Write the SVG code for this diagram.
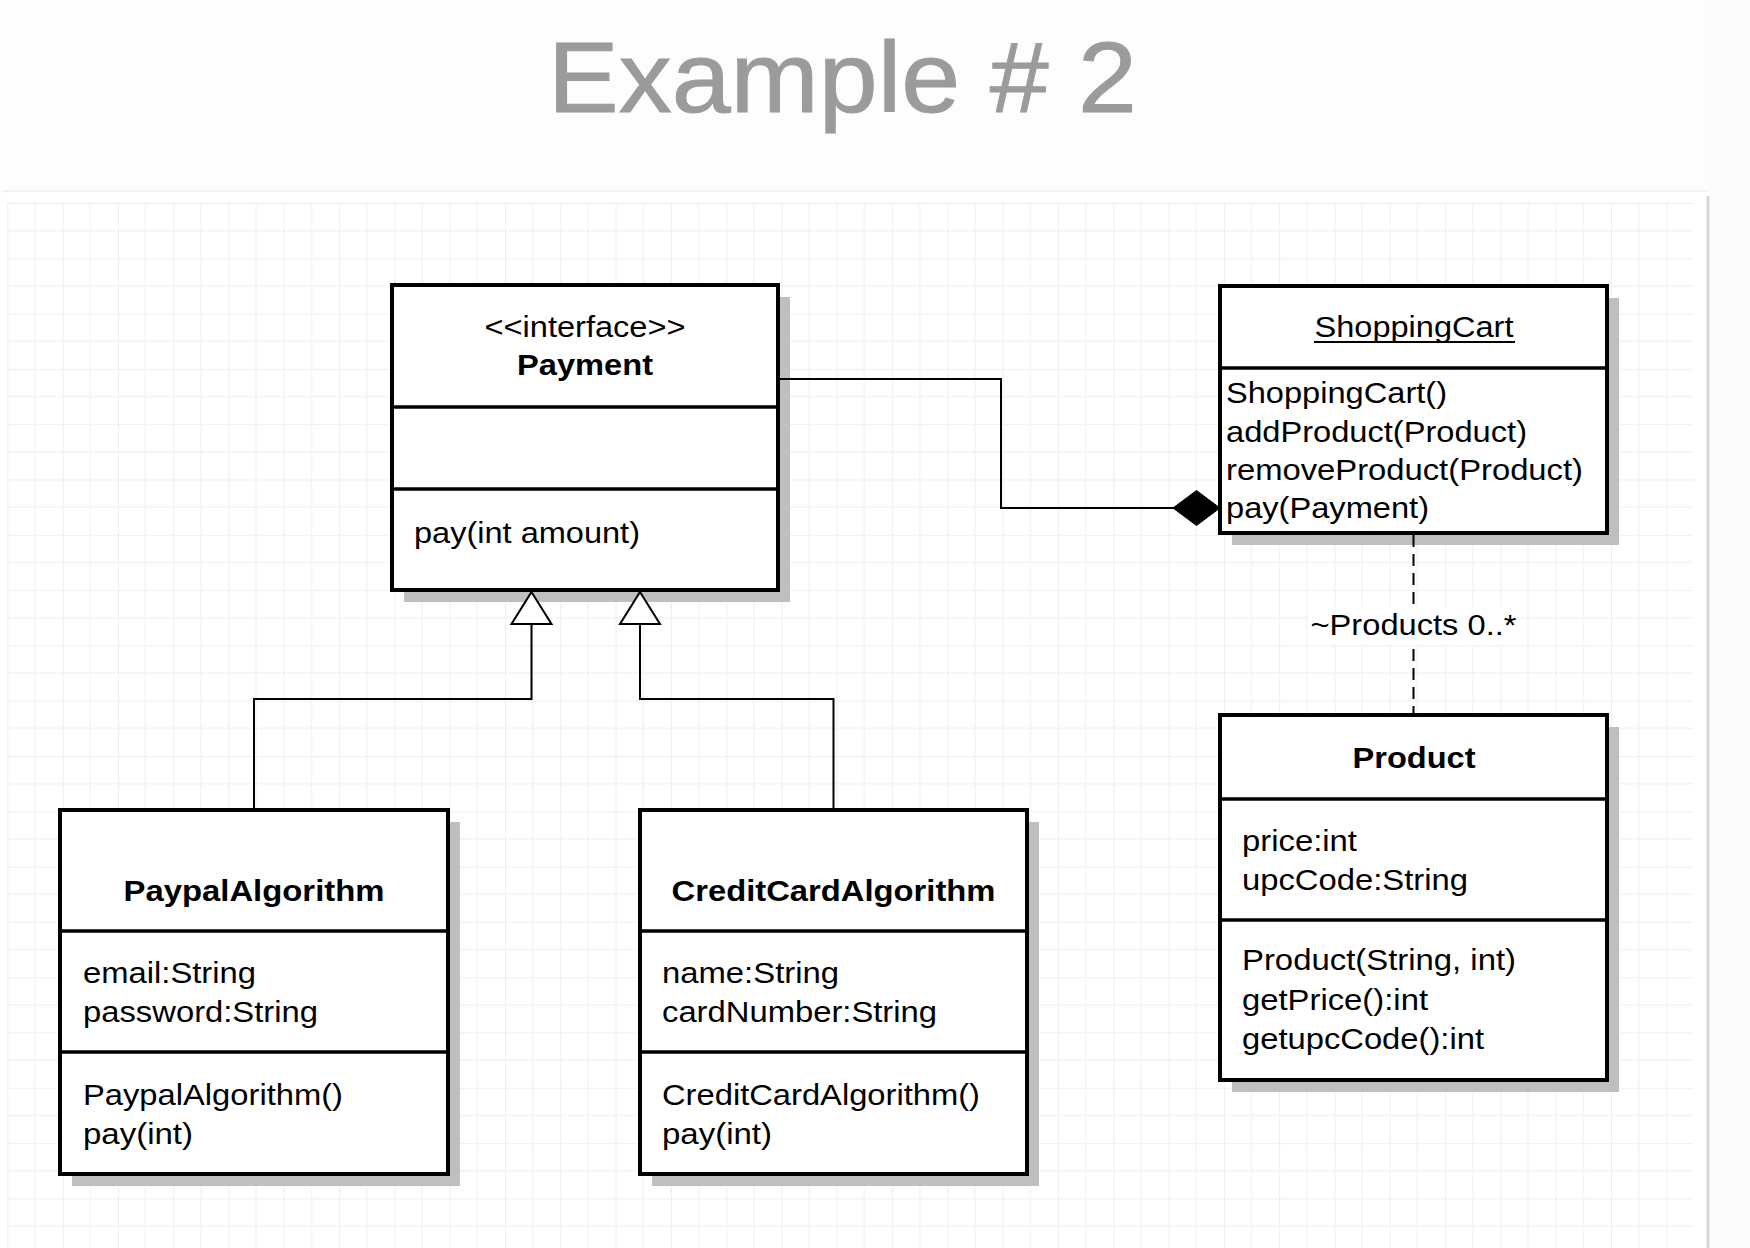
<svg xmlns="http://www.w3.org/2000/svg" width="1750" height="1248" viewBox="0 0 1750 1248">
<defs>
<style>
.box{fill:#fff;stroke:#000;stroke-width:4}
.div{stroke:#000;stroke-width:3.5;fill:none}
.shadow{fill:#bfbfbf}
.t{font-family:"Liberation Sans",Arial,Helvetica,sans-serif;font-size:29px;fill:#000}
.b{font-weight:bold}
.c{text-anchor:middle}
.edge{fill:none;stroke:#000;stroke-width:2}
.dash{fill:none;stroke:#000;stroke-width:2;stroke-dasharray:12 7}
</style>
<pattern id="grid" patternUnits="userSpaceOnUse" x="7.3" y="37.1" width="55.3" height="55.3">
<path d="M0 0V55.3M0 0H55.3" stroke="#e9e9f3" stroke-width="1.6" fill="none"/>
<path d="M27.65 0V55.3M0 27.65H55.3" stroke="#f2f2f8" stroke-width="1.3" fill="none"/>
</pattern>
</defs>

<g id="background">
<rect x="0" y="0" width="1750" height="1248" fill="#fdfdfd"/>
<rect x="2" y="191" width="1706" height="1057" fill="#ffffff"/>
<rect x="7" y="203" width="1686" height="1045" fill="url(#grid)"/>
<line x1="2" y1="191" x2="1708" y2="191" stroke="#f3f3f3" stroke-width="2"/>
<line x1="1708" y1="196" x2="1708" y2="1248" stroke="#d6d6d6" stroke-width="3"/>
<rect x="1710" y="0" width="40" height="1248" fill="#fbfbfb"/>
</g>

<g id="title">
<text x="548" y="112" font-family="'Liberation Sans',Arial,Helvetica,sans-serif" font-size="101" fill="#9b9b9b" stroke="#9b9b9b" stroke-width="1" textLength="589" lengthAdjust="spacingAndGlyphs">Example # 2</text>
</g>

<g id="shadows">
<rect class="shadow" x="404" y="297" width="386" height="305"/>
<rect class="shadow" x="1232" y="298" width="387" height="247"/>
<rect class="shadow" x="1232" y="727" width="387" height="365"/>
<rect class="shadow" x="72" y="822" width="388" height="364"/>
<rect class="shadow" x="652" y="822" width="387" height="364"/>
</g>

<g id="connectors">
<polyline class="edge" points="778,379 1001,379 1001,508 1175,508"/>
<polygon points="1173,508 1196.5,490.5 1220,508 1196.5,525.5" fill="#000" stroke="#000" stroke-width="1"/>
<line class="dash" x1="1413.5" y1="535" x2="1413.5" y2="715"/>
<rect x="1308" y="607" width="212" height="38" fill="#fff"/>
<text class="t c" x="1413.5" y="635" textLength="206" lengthAdjust="spacingAndGlyphs">~Products 0..*</text>
<polyline class="edge" points="531.5,624 531.5,699 254,699 254,810"/>
<polyline class="edge" points="640,624 640,699 833.5,699 833.5,810"/>
<polygon points="531.5,592 551.5,624 511.5,624" fill="#fff" stroke="#000" stroke-width="2"/>
<polygon points="640,592 660,624 620,624" fill="#fff" stroke="#000" stroke-width="2"/>
</g>

<g id="Payment">
<rect class="box" x="392" y="285" width="386" height="305"/>
<line class="div" x1="392" y1="407" x2="778" y2="407"/>
<line class="div" x1="392" y1="489" x2="778" y2="489"/>
<text class="t c" x="585" y="337" textLength="201" lengthAdjust="spacingAndGlyphs">&lt;&lt;interface&gt;&gt;</text>
<text class="t b c" x="585" y="375" textLength="136" lengthAdjust="spacingAndGlyphs">Payment</text>
<text class="t" x="414" y="543" textLength="226" lengthAdjust="spacingAndGlyphs">pay(int amount)</text>
</g>

<g id="ShoppingCart">
<rect class="box" x="1220" y="286" width="387" height="247"/>
<line class="div" x1="1220" y1="368" x2="1607" y2="368"/>
<text class="t c" x="1414" y="337" textLength="199" lengthAdjust="spacingAndGlyphs">ShoppingCart</text>
<line x1="1314" y1="342" x2="1515" y2="342" stroke="#000" stroke-width="2"/>
<text class="t" x="1226" y="403" textLength="221" lengthAdjust="spacingAndGlyphs">ShoppingCart()</text>
<text class="t" x="1226" y="442" textLength="301" lengthAdjust="spacingAndGlyphs">addProduct(Product)</text>
<text class="t" x="1226" y="480" textLength="357" lengthAdjust="spacingAndGlyphs">removeProduct(Product)</text>
<text class="t" x="1226" y="518" textLength="203" lengthAdjust="spacingAndGlyphs">pay(Payment)</text>
</g>

<g id="Product">
<rect class="box" x="1220" y="715" width="387" height="365"/>
<line class="div" x1="1220" y1="799" x2="1607" y2="799"/>
<line class="div" x1="1220" y1="920" x2="1607" y2="920"/>
<text class="t b c" x="1414" y="768" textLength="123" lengthAdjust="spacingAndGlyphs">Product</text>
<text class="t" x="1242" y="851" textLength="115" lengthAdjust="spacingAndGlyphs">price:int</text>
<text class="t" x="1242" y="890" textLength="226" lengthAdjust="spacingAndGlyphs">upcCode:String</text>
<text class="t" x="1242" y="970" textLength="274" lengthAdjust="spacingAndGlyphs">Product(String, int)</text>
<text class="t" x="1242" y="1010" textLength="186" lengthAdjust="spacingAndGlyphs">getPrice():int</text>
<text class="t" x="1242" y="1049" textLength="242" lengthAdjust="spacingAndGlyphs">getupcCode():int</text>
</g>

<g id="PaypalAlgorithm">
<rect class="box" x="60" y="810" width="388" height="364"/>
<line class="div" x1="60" y1="931" x2="448" y2="931"/>
<line class="div" x1="60" y1="1052" x2="448" y2="1052"/>
<text class="t b c" x="254" y="901" textLength="261" lengthAdjust="spacingAndGlyphs">PaypalAlgorithm</text>
<text class="t" x="83" y="983" textLength="173" lengthAdjust="spacingAndGlyphs">email:String</text>
<text class="t" x="83" y="1022" textLength="235" lengthAdjust="spacingAndGlyphs">password:String</text>
<text class="t" x="83" y="1105" textLength="260" lengthAdjust="spacingAndGlyphs">PaypalAlgorithm()</text>
<text class="t" x="83" y="1144" textLength="110" lengthAdjust="spacingAndGlyphs">pay(int)</text>
</g>

<g id="CreditCardAlgorithm">
<rect class="box" x="640" y="810" width="387" height="364"/>
<line class="div" x1="640" y1="931" x2="1027" y2="931"/>
<line class="div" x1="640" y1="1052" x2="1027" y2="1052"/>
<text class="t b c" x="833.5" y="901" textLength="324" lengthAdjust="spacingAndGlyphs">CreditCardAlgorithm</text>
<text class="t" x="662" y="983" textLength="177" lengthAdjust="spacingAndGlyphs">name:String</text>
<text class="t" x="662" y="1022" textLength="275" lengthAdjust="spacingAndGlyphs">cardNumber:String</text>
<text class="t" x="662" y="1105" textLength="318" lengthAdjust="spacingAndGlyphs">CreditCardAlgorithm()</text>
<text class="t" x="662" y="1144" textLength="110" lengthAdjust="spacingAndGlyphs">pay(int)</text>
</g>
</svg>
